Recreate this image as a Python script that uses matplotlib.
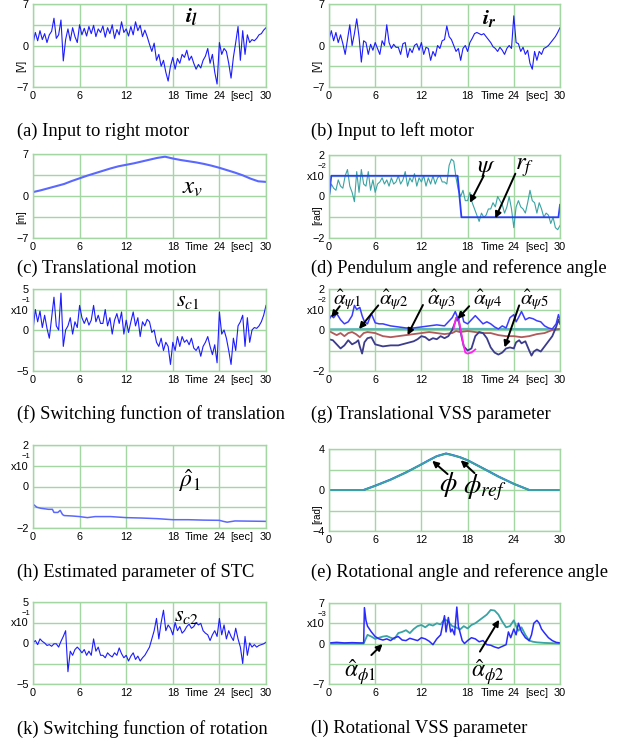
import numpy as np
import matplotlib
matplotlib.use("Agg")
import matplotlib.pyplot as plt

plt.rcParams["mathtext.fontset"] = "stix"
plt.rcParams["font.family"] = ["Liberation Sans", "DejaVu Sans"]

# ---- data ----
T_FINE = np.linspace(0, 30, 101)  # 0.3 s sampling for the noisy traces

i_l = [0.3, 2.2, 0.8, 2.5, 1.0, 2.0, 0.5, 1.8, 2.4, 4.6,
       1.2, 1.8, 4.3, -2.6, 1.0, 2.8, 0.8, 3.0, 1.5, 0.5,
       3.5, 1.8, 2.9, 1.6, 3.2, 2.0, 3.4, 1.5, 2.8, 2.2,
       3.3, 1.4, 3.0, 2.0, 3.5, 1.2, 2.7, 1.8, 4.0, 2.2,
       2.8, 1.6, 3.2, 1.8, 4.0, 2.5, 3.4, 1.5, 2.6, 1.5,
       0.2, -1.0, 0.4, -2.5, -1.5, -3.5, -2.5, -4.5, -6.0, -3.5,
       -2.0, -4.0, -2.2, -3.0, -1.5, -2.0, -0.8, -2.5, -1.8, -3.0,
       -4.0, -3.2, -3.8, -2.5, -1.8, -0.5, -3.0, -1.5, -4.5, -6.5,
       0.5, -1.5, -0.5, -1.0, -3.0, -5.5, -2.0, 0.5, 3.2, -2.5,
       2.5, -1.5, 1.8, 0.5, 1.0, 0.8, 1.2, 1.8, 2.0, 2.6,
       3.0]

i_r = [1.0, 2.5, 0.8, 2.2, 0.5, 1.8, 0.3, -1.5, 1.0, 3.5,
       0.0, 2.0, 4.5, 1.5, -2.8, 0.8, 0.5, -1.5, 0.2, -0.8,
       0.5, -0.5, -1.5, 0.8, 0.0, 3.5, 0.5, -0.5, 0.2, -0.3,
       -0.3, -1.5, 0.3, 0.5, -2.0, -0.5, -1.2, 0.0, 0.3, -0.8,
       0.5, -1.5, -0.3, -0.5, -2.5, -1.0, -1.8, 0.0, -0.5, 0.8,
       1.0, 3.3, 1.5, 1.0, 0.0, -1.0, -0.5, -2.5, -0.5, 0.0,
       -1.0, 0.5, 1.2, 2.0, 2.2, 2.0, 1.8, 2.0, 1.5, 1.0,
       0.5, -0.2, -0.5, -1.0, -0.3, -0.8, -1.5, -0.5, 0.0, -0.5,
       5.0, 0.5, 0.3, -1.0, -0.3, -1.5, -0.8, -3.0, -4.0, -1.0,
       -2.5, -1.0, -1.5, -0.5, -0.3, 0.0, 0.5, 1.0, 1.5, 2.2,
       3.0]

x_v_t = np.arange(31)
x_v = [0.65, 0.95, 1.3, 1.65, 2.0, 2.5, 2.95, 3.4, 3.8, 4.2,
       4.6, 4.95, 5.2, 5.45, 5.75, 6.05, 6.35, 6.55, 6.25, 6.0,
       5.8, 5.6, 5.35, 5.05, 4.7, 4.3, 3.9, 3.45, 2.9, 2.45, 2.35]

r_f_t = [0, 0.3, 16.7, 17.2, 29.8, 30]
r_f = [0, 1, 1, -1, -1, -0.4]
psi = [-0.1, 0.6, 0.4, 0.3, 0.8, 0.5, 0.4, 1.0, 1.3, 0.5,
       0.2, -0.25, 1.2, 0.2, 1.3, 0.6, 0.5, 1.2, 0.3, 0.8,
       0.2, 0.6, 0.7, 0.9, 0.6, 0.8, 0.5, 0.9, 0.6, 0.7,
       1.0, 0.6, 0.8, 1.2, 0.5, 0.9, 0.7, 1.1, 0.5, 0.9,
       0.7, 1.0, 0.5, 0.9, 0.6, 1.0, 0.6, 0.9, 1.0, 0.7,
       0.7, 0.6, 1.5, 1.8, 1.7, 0.9, 0.3, 0.0, 0.3, -0.2,
       -0.2, 0.2, -0.3, -0.6, -0.9, -1.2, -0.8, -1.0, -0.9, -0.6,
       -0.6, -0.3, -0.5, 0.0, -0.2, -0.4, -0.8, -0.5, 0.0, -0.6,
       -1.5, -0.5, -0.2, -0.5, -0.6, -0.8, -0.3, 0.3, -0.2, -0.3,
       -0.8, -0.3, -0.6, -1.0, -0.8, -0.9, -1.3, -1.0, -1.5, -1.6,
       -1.4]

s_c1 = [0.0, 2.5, 1.0, 2.3, 0.3, 1.8, 0.2, -1.0, 1.5, 4.0,
        0.5, 0.0, 4.5, -2.0, 0.0, 0.5, 1.5, -0.5, 1.0, 0.3,
        3.0, 1.5, 0.8, 1.5, 0.6, 1.2, 3.0, 1.0, 1.8, 0.8,
        0.8, 2.5, 0.5, 1.5, -0.5, 1.2, 2.0, 0.8, 2.2, -0.5,
        1.2, -0.3, 1.0, 2.2, 0.5, 1.5, -0.8, 1.0, 0.5, 1.3,
        1.0, -0.3, 0.0, -1.5, -2.0, -1.0, -2.5, -1.5, -2.0, -4.2,
        -1.5, -2.5, -0.8, -2.0, -0.8, -1.5, -1.2, -1.8, -1.0, -2.2,
        -2.5, -2.0, -3.2, -2.0, -1.5, -0.8, -2.0, -3.0, -1.8, -4.0,
        2.2, -0.5, 0.0, -1.0, -2.5, -4.2, -1.0, -2.5, 0.5, 1.0,
        1.8, -2.0, 1.5, -1.5, 0.0, 0.3, 0.2, 0.5, 1.0, 1.8,
        3.0]

a_psi1_t = [0, 0.3, 0.6, 1, 1.5, 2, 2.5, 3, 3.3, 3.6, 4, 4.3, 4.6, 5, 5.5, 6, 6.5, 7, 8, 9,
            10, 11, 12, 13, 14, 15, 15.5, 16, 16.4, 16.8, 17.2, 17.5, 18, 18.5, 19, 19.5, 20, 20.5, 21, 21.5,
            22, 22.5, 23, 23.5, 24, 24.3, 24.6, 25, 25.5, 26, 26.5, 27, 27.5, 28, 28.5, 29, 29.5, 29.8, 30]
a_psi1 = [0.5, 0.7, 0.6, 0.8, 0.5, 0.3, 0.4, 0.7, 1.2, 1.0, 1.1, 0.7, 0.4, 0.3, 0.8, 0.35, 0.3, 0.3, 0.2, 0.15,
          0.1, 0.1, 0.15, 0.2, 0.25, 0.2, 0.4, 0.6, 0.9, 0.5, 0.9, 0.4, 0.3, 0.5, 0.7, 0.5, 0.3, 0.4, 0.3, 0.15,
          0.05, 0.2, 0.1, 0.6, 0.75, 0.4, 0.6, 0.9, 0.5, 0.6, 0.55, 0.45, 0.4, 0.2, 0.1, 0.05, 0.3, 0.75, 0.5]
a_psi2_t = [0, 0.5, 1, 1.5, 2, 2.5, 3, 3.5, 4, 4.5, 5, 6, 7, 8, 9, 10, 11, 12, 13, 14,
            15, 16, 16.5, 17, 18, 19, 20, 21, 22, 23, 24, 25, 26, 27, 28, 29, 30]
a_psi2 = [-0.05, -0.15, -0.25, -0.15, -0.3, -0.15, -0.1, -0.2, -0.35, -0.15, -0.1, -0.15, -0.3, -0.35, -0.3,
          -0.25, -0.2, -0.15, -0.1, -0.15, -0.2, -0.15, -0.05, -0.1, -0.05, -0.1, -0.15, -0.15, -0.25, -0.3,
          -0.3, -0.35, -0.3, -0.2, -0.15, 0.0, 0.05]
a_psi3_t = [0, 5, 10, 15, 20, 25, 30]
a_psi3 = [0.03, 0.04, 0.04, 0.05, 0.05, 0.04, 0.04]
a_psi4_t = [0, 0.5, 1, 1.5, 2, 2.5, 3, 3.5, 3.8, 4, 4.3, 4.6, 5, 5.5, 6, 6.5, 7, 8, 9, 10,
            11, 11.5, 12, 12.5, 13, 13.5, 14, 14.5, 15, 15.5, 16, 16.3, 16.6, 16.9, 17.2, 17.5, 18, 18.5, 19, 19.5,
            20, 20.5, 21, 21.5, 22, 22.5, 23, 23.5, 24, 24.3, 24.7, 25, 25.5, 26, 26.3, 26.6, 27, 27.5, 28, 28.5,
            29, 29.5, 29.8, 30]
a_psi4 = [-0.45, -0.5, -0.7, -0.9, -0.75, -0.5, -0.7, -0.6, -0.5, -0.8, -1.15, -0.6, -0.4, -0.35, -0.7,
          -0.75, -0.8, -0.75, -0.75, -0.65, -0.55, -0.45, -0.3, -0.35, -0.5, -0.4, -0.45, -0.3, -0.4, -0.3,
          0.0, 0.3, 0.6, 0.35, -0.3, -0.8, -1.0, -0.9, -0.3, -0.1, -0.15, -0.4, -0.85, -1.1, -1.2, -1.1,
          -0.9, -0.85, -0.9, -0.6, -0.5, -0.65, -0.55, -1.0, -1.25, -1.05, -0.95, -1.05, -0.8, -0.55,
          -0.3, 0.15, 0.5, 0.3]
a_psi5_t = [16.2, 16.5, 16.8, 17.1, 17.4, 17.7, 18, 18.5, 19]
a_psi5 = [0.1, 0.6, 0.6, 0.0, -0.6, -1.1, -1.15, -1.1, -0.95]

rho1_t = [0, 0.5, 1, 2, 2.5, 2.7, 3.2, 3.5, 3.8, 4, 5, 6, 7, 8, 9, 10, 12, 14, 16, 18,
          20, 22, 24, 24.5, 25, 26, 28, 30]
rho1 = [-0.85, -1.0, -1.05, -1.1, -1.1, -1.25, -1.25, -1.15, -1.35, -1.4, -1.42, -1.45, -1.5, -1.45,
        -1.45, -1.45, -1.5, -1.52, -1.55, -1.6, -1.6, -1.62, -1.63, -1.68, -1.72, -1.66, -1.67, -1.68]

phi_t = [0, 4.5, 6, 8, 10, 12, 13, 14, 15, 15.2, 16, 17, 18, 20, 22, 24, 26, 28, 30]
phi = [0, 0, 0.4, 1.0, 1.7, 2.5, 2.9, 3.3, 3.5, 3.55, 3.4, 3.2, 2.9, 2.1, 1.3, 0.6, 0, 0, 0]
phi_ref = [0, 0, 0.42, 1.02, 1.72, 2.5, 2.92, 3.3, 3.52, 3.56, 3.42, 3.2, 2.9, 2.12, 1.32, 0.6, 0, 0, 0]

s_c2 = [0.0, 0.3, -0.2, 0.5, 0.2, 0.0, -0.3, -0.2, -0.4, -0.1,
        -0.1, -0.5, 0.2, 0.8, 1.5, -3.5, -1.0, -1.5, -0.8, -0.5,
        -0.8, -1.2, -0.8, -1.5, -1.0, -1.5, 0.5, -1.0, -0.5, -1.5,
        -1.5, -1.8, -1.2, -1.5, -1.7, -1.2, -1.5, -0.6, -1.3, -1.8,
        -1.5, -2.2, -1.6, -1.2, -2.0, -1.6, -2.2, -1.8, -1.5, -1.0,
        -0.5, 0.5, 1.5, 3.0, 0.5, 2.5, 4.0, 1.5, 2.2, 1.8,
        1.0, 2.5, 1.5, 2.0, 1.2, 1.5, 2.0, 2.3, 1.8, 2.0,
        2.5, 2.2, 2.4, 1.5, 1.2, 1.0, 0.3, 1.0, 1.5, 0.8,
        3.0, 1.0, 2.2, 0.5, 1.5, 0.8, 0.3, 1.8, 0.5, -0.5,
        -2.5, 0.8, -1.5, 0.0, -0.5, -0.2, -0.5, -0.3, -0.2, -0.1,
        0.1]

a_phi1_t = [0, 1, 2, 3, 4, 4.5, 4.6, 4.8, 5, 5.5, 6, 6.5, 7, 7.5, 8, 8.5, 9, 9.5, 10, 10.5,
            11, 11.5, 12, 12.5, 13, 13.5, 14, 14.5, 15, 15.2, 15.5, 15.8, 16, 16.3, 16.6, 16.8, 17, 17.3, 17.6, 18,
            18.5, 19, 19.5, 20, 20.5, 21, 21.5, 22, 22.5, 23, 23.3, 23.6, 24, 24.3, 24.6, 25, 25.5, 26, 26.3, 26.6,
            27, 27.3, 27.6, 28, 28.5, 29, 29.5, 30]
a_phi1 = [0.1, 0.2, 0.1, 0.15, 0.1, 0.1, 6.2, 4.0, 3.0, 2.0, 1.2, 0.8, 0.6, 0.8, 0.5, 1.0, 1.2, 0.6, 0.5, 0.9,
          0.7, 0.5, 1.0, 0.8, 0.4, -0.2, 0.8, 1.5, 4.8, 2.0, 4.5, 2.0, 2.5, 1.5, 6.3, 3.0, 2.0, 0.5, 0.0, 0.5,
          1.0, 0.8, 0.3, 0.5, -0.2, -0.3, -0.6, -0.8, -0.5, -0.2, 2.0, 1.0, 2.5, 1.5, 3.5, 2.0, 1.0, 0.5, 1.5, 3.5,
          4.0, 3.5, 2.5, 1.8, 1.0, 0.5, 0.2, 0.1]
a_phi2_t = [0, 4.5, 5, 5.5, 6, 6.5, 7, 7.5, 8, 8.5, 9, 9.5, 10, 10.5, 11, 11.5, 12, 12.5, 13, 13.5,
            14, 14.5, 15, 15.5, 16, 16.5, 17, 17.5, 18, 18.5, 19, 19.5, 20, 20.5, 21, 21.5, 22, 22.5, 23, 23.5,
            24, 24.3, 24.6, 25, 25.5, 26, 26.5, 27, 28, 29, 30]
a_phi2 = [0, 0, 1.5, 1.2, 0.8, 1.0, 1.2, 1.3, 1.0, 0.8, 1.8, 2.0, 2.3, 1.8, 2.5, 3.0, 3.2, 2.8, 3.3, 3.1,
          3.5, 3.3, 4.2, 3.8, 3.0, 2.8, 2.4, 3.0, 2.6, 3.2, 3.5, 4.0, 4.5, 5.0, 5.8, 5.7, 5.0, 3.8, 2.8, 3.0,
          4.0, 3.0, 2.2, 2.8, 1.5, 0.5, 0.3, 0.2, 0.1, 0.05, 0]

# ---- styling ----
W, H = 626, 742
GRID = "#a3d6a3"
BLUE = "#1c1cff"
LBLUE = "#5a68ff"
TEAL = "#3aa3a3"
ARROW = dict(arrowstyle="-|>", color="k", lw=1.4, mutation_scale=9, shrinkA=0, shrinkB=0)


def make_ax(fig, x0, y0, x1, y1):
    return fig.add_axes([x0 / W, 1 - y1 / H, (x1 - x0) / W, (y1 - y0) / H])


def frame(ax, lim, top, bot, unit=None, unit_y=0.25, mult=None, time_lbl=True, tpos=(21.1, 26.9)):
    ax.set_xlim(0, 30)
    ax.set_ylim(-lim, lim)
    ax.set_xticks([0, 6, 12, 18, 24, 30], ["0", "6", "12", "18", "24", "30"])
    if time_lbl:
        ax.set_xticks(list(tpos), ["Time", "[sec]"], minor=True)
    ax.set_yticks([-lim, -lim / 2, 0, lim / 2, lim],
                  [bot, "", "0", "x10" if mult else "", top])
    ax.grid(True, which="major", color=GRID, lw=1)
    ax.tick_params(which="both", length=0, labelsize=7.8, pad=3)
    for s in ax.spines.values():
        s.set_color(GRID)
        s.set_linewidth(1)
    if mult:
        ax.text(-0.012, 0.75 + 9 / 83, mult, transform=ax.transAxes,
                ha="right", va="center", fontsize=5.5)
    if unit:
        ax.text(-0.05, unit_y, unit, transform=ax.transAxes, rotation=90,
                ha="center", va="center", fontsize=7)


def caption(fig, x, y, s):
    fig.text(x / W, 1 - y / H, s, ha="left", va="center",
             family="Liberation Serif", fontsize=13.3)


def main():
    fig = plt.figure(figsize=(W / 100, H / 100), dpi=100)
    LX, RX = (33, 266), (329, 560)

    # (a)
    ax = make_ax(fig, LX[0], 4, LX[1], 87)
    frame(ax, 7, "7", "\u22127", unit="[V]")
    ax.plot(T_FINE, i_l, color=BLUE, lw=0.8)
    ax.text(20.4, 4.9, r"$\mathbfit{i}_{\mathbfit{l}}$", fontsize=16, ha="center", va="center")
    caption(fig, 17, 131, "(a) Input to right motor")

    # (b)
    ax = make_ax(fig, RX[0], 4, RX[1], 87)
    frame(ax, 7, "7", "\u22127", unit="[V]", tpos=(21.2, 27.0))
    ax.plot(T_FINE, i_r, color=BLUE, lw=0.8)
    ax.text(20.8, 4.5, r"$\mathbfit{i}_{\mathbfit{r}}$", fontsize=16, ha="center", va="center")
    caption(fig, 311, 131, "(b) Input to left motor")

    # (c)
    ax = make_ax(fig, LX[0], 154, LX[1], 238)
    frame(ax, 7, "7", "\u22127", unit="[m]")
    ax.plot(x_v_t, x_v, color=LBLUE, lw=1.5)
    ax.text(20.5, 1.5, r"$x_v$", fontsize=18, ha="center", va="center")
    caption(fig, 17, 268, "(c) Translational motion")

    # (d)
    ax = make_ax(fig, RX[0], 155, RX[1], 238)
    frame(ax, 2, "2", "\u22122", unit="[rad]", unit_y=0.27, mult="\u22122", tpos=(21.2, 27.0))
    ax.plot(T_FINE, psi, color=TEAL, lw=0.8)
    ax.plot(r_f_t, r_f, color="#2a3cff", lw=1.3)
    ax.text(20.5, 1.4, r"$\psi$", fontsize=18, ha="center", va="center")
    ax.annotate("", xy=(18.3, -0.3), xytext=(20.1, 1.0), arrowprops=ARROW)
    ax.text(25.4, 1.4, r"$r_f$", fontsize=18, ha="center", va="center")
    ax.annotate("", xy=(21.6, -1.05), xytext=(24.2, 1.1), arrowprops=ARROW)
    caption(fig, 311, 268, "(d) Pendulum angle and reference angle")

    # (f)
    ax = make_ax(fig, LX[0], 289, LX[1], 371)
    frame(ax, 5, "5", "\u22125", mult="\u22121")
    ax.plot(T_FINE, s_c1, color=BLUE, lw=0.8)
    ax.text(20.0, 3.6, r"$s_{c1}$", fontsize=16, ha="center", va="center")
    caption(fig, 17, 414, "(f) Switching function of translation")

    # (g)
    ax = make_ax(fig, RX[0], 289, RX[1], 371)
    frame(ax, 2, "2", "\u22122", mult="\u22122", tpos=(21.2, 27.0))
    ax.plot(a_psi3_t, a_psi3, color="#5cb8b8", lw=1.6)
    ax.plot(a_psi2_t, a_psi2, color="#b05a5a", lw=1.3)
    ax.plot(a_psi4_t, a_psi4, color="#3c3c8c", lw=1.3)
    ax.plot(a_psi5_t, a_psi5, color="#ff22ee", lw=1.3)
    ax.plot(a_psi1_t, a_psi1, color="#3c3cff", lw=1.1)
    g_lbl = [(r"$\hat{\alpha}_{\psi 1}$", 2.3, (1.4, 1.16), (0.3, 0.62)),
             (r"$\hat{\alpha}_{\psi 2}$", 8.4, (6.4, 1.2), (3.9, 0.05)),
             (r"$\hat{\alpha}_{\psi 3}$", 14.6, (12.2, 1.22), (10.2, -0.25)),
             (r"$\hat{\alpha}_{\psi 4}$", 20.6, (18.2, 1.16), (16.7, 0.54)),
             (r"$\hat{\alpha}_{\psi 5}$", 26.7, (24.7, 1.2), (22.8, -0.85))]
    for s, tx, tail, tip in g_lbl:
        ax.text(tx, 1.45, s, fontsize=15, ha="center", va="center")
        ax.annotate("", xy=tip, xytext=tail, arrowprops=ARROW)
    caption(fig, 311, 414, "(g) Translational VSS parameter")

    # (h)
    ax = make_ax(fig, LX[0], 445, LX[1], 528)
    frame(ax, 2, "2", "\u22122", mult="\u22121")
    ax.plot(rho1_t, rho1, color=LBLUE, lw=1.1)
    ax.text(20.2, 0.3, r"$\hat{\rho}_1$", fontsize=17, ha="center", va="center")
    caption(fig, 17, 572, "(h) Estimated parameter of STC")

    # (e)
    ax = make_ax(fig, RX[0], 449, RX[1], 531)
    frame(ax, 4, "4", "\u22124", unit="[rad]", unit_y=0.2, time_lbl=False)
    ax.plot(phi_t, phi_ref, color="#2a3cff", lw=1.4)
    ax.plot(phi_t, phi, color=TEAL, lw=1.4)
    ax.text(15.5, 0.5, r"$\phi$", fontsize=20, ha="center", va="center")
    ax.annotate("", xy=(13.4, 2.85), xytext=(15.4, 1.55), arrowprops=ARROW)
    ax.text(20.2, 0.2, r"$\phi_{ref}$", fontsize=20, ha="center", va="center")
    ax.annotate("", xy=(17.1, 2.9), xytext=(18.9, 1.65), arrowprops=ARROW)
    caption(fig, 311, 572, "(e) Rotational angle and reference angle")

    # (k)
    ax = make_ax(fig, LX[0], 602, LX[1], 684)
    frame(ax, 5, "5", "\u22125", mult="\u22121")
    ax.plot(T_FINE, s_c2, color=BLUE, lw=0.8)
    ax.text(19.8, 3.4, r"$s_{c2}$", fontsize=16, ha="center", va="center")
    caption(fig, 17, 729, "(k) Switching function of rotation")

    # (l)
    ax = make_ax(fig, RX[0], 603, RX[1], 684)
    frame(ax, 7, "7", "\u22127", mult="\u22123", tpos=(21.2, 27.0))
    ax.plot(a_phi2_t, a_phi2, color=TEAL, lw=1.3)
    ax.plot(a_phi1_t, a_phi1, color="#2a2aff", lw=1.1)
    ax.text(4.0, -4.9, r"$\hat{\alpha}_{\phi 1}$", fontsize=17, ha="center", va="center")
    ax.annotate("", xy=(6.95, -0.1), xytext=(5.5, -2.0), arrowprops=ARROW)
    ax.text(20.6, -4.9, r"$\hat{\alpha}_{\phi 2}$", fontsize=17, ha="center", va="center")
    ax.annotate("", xy=(22.1, 4.1), xytext=(19.6, -1.4), arrowprops=ARROW)
    caption(fig, 311, 728, "(l) Rotational VSS parameter")

    fig.savefig("out.png", dpi=100)


if __name__ == "__main__":
    main()
